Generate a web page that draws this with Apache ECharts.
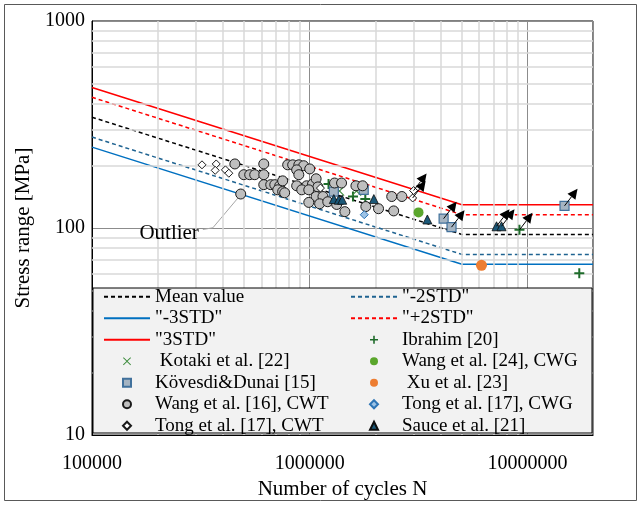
<!DOCTYPE html>
<html>
<head>
<meta charset="utf-8">
<title>S-N curve</title>
<script src="https://cdn.jsdelivr.net/npm/echarts@6/dist/echarts.min.js"></script>
<style>
  html, body { margin: 0; padding: 0; background: #ffffff; }
  #chart { width: 641px; height: 505px; }
</style>
</head>
<body>
<div id="chart"></div>
<script>
// Design curves: knots at N = 1e5, 5e6 (cut-off) and 2e7
const curveN = [1e5, 5e6, 2e7];
const meanValue = [343, 93.1, 93.1];
const minus2Std = [275, 74.6, 74.6];
const minus3Std = [246, 66.8, 66.8];
const plus2Std = [428, 116, 116];
const plus3Std = [477, 129.5, 129.5];

// Test results [N, stress range MPa]
const ibrahim20 = [[1.22e6, 163], [1.58e6, 142], [1.80e6, 138], [9.19e6, 98], [1.73e7, 60.5]];
const kotaki22 = [[1.37e6, 151], [1.64e6, 151]];
const wang24CWG = [[3.16e6, 119]];
const kovesdi15 = [[1.29e6, 150], [1.77e6, 153], [4.12e6, 111], [4.48e6, 101], [1.48e7, 128]];
const xu23 = [[6.15e6, 66.1]];
const wang16CWT = [
  [4.53e5, 204], [6.15e5, 204], [7.92e5, 202], [8.35e5, 202], [8.91e5, 202], [9.38e5, 200], [1.0e6, 193],
  [4.98e5, 181], [5.30e5, 181], [5.59e5, 181], [6.15e5, 181], [8.71e5, 191], [8.91e5, 181],
  [6.15e5, 162], [6.62e5, 162], [6.91e5, 162], [7.28e5, 160], [7.51e5, 169], [8.71e5, 160], [9.68e5, 160],
  [1.03e6, 163], [1.07e6, 173], [1.09e6, 158], [1.30e6, 165], [1.40e6, 165], [1.63e6, 160], [1.75e6, 160],
  [7.13e5, 153], [7.51e5, 150], [9.19e5, 153], [9.9e5, 153], [1.07e6, 142], [1.15e6, 142], [7.67e5, 148],
  [9.9e5, 133], [1.11e6, 131], [1.21e6, 134], [1.33e6, 130], [1.45e6, 120],
  [1.81e6, 127], [2.07e6, 124], [2.43e6, 121], [2.38e6, 142], [2.65e6, 142],
  [4.82e5, 146]
];
const tong17CWG = [[1.78e6, 116]];
const tong17CWT = [[3.20e5, 202], [3.72e5, 204], [3.68e5, 190], [4.10e5, 191], [4.25e5, 184], [1.12e6, 156], [3.0e6, 151.7], [2.97e6, 139.7]];
const sauce21 = [[1.29e6, 138], [1.36e6, 137], [1.41e6, 137], [1.97e6, 138], [3.47e6, 110], [7.21e6, 102], [7.60e6, 102]];

// Run-out specimens (no failure), marked with an arrow
const runOuts = [[3.0e6, 151.7], [2.97e6, 139.7], [4.12e6, 111], [4.48e6, 101], [1.48e7, 128], [7.21e6, 102], [7.60e6, 102], [9.19e6, 98]];

// Outlier annotation: leader line from the label to the specimen
const outlierLeader = [[3.23e5, 98.4], [3.59e5, 100.3], [4.77e5, 143]];
const outlierLabel = 'Outlier';

// Grid lines
const minorX = [2e5, 3e5, 4e5, 5e5, 6e5, 7e5, 8e5, 9e5, 2e6, 3e6, 4e6, 5e6, 6e6, 7e6, 8e6, 9e6];
const minorY = [20, 30, 40, 50, 60, 70, 80, 90, 200, 300, 400, 500, 600, 700, 800, 900];

const SERIF = "'Liberation Serif', 'Times New Roman', serif";
const toPairs = (xs, ys) => xs.map((x, i) => [x, ys[i]]);

// Marker shapes as paths so they keep their proportions in the legend
const PLUS = 'path://M4 0 L6 0 L6 4 L10 4 L10 6 L6 6 L6 10 L4 10 L4 6 L0 6 L0 4 L4 4 Z';
const CROSS = 'path://M0 0.8 L0.8 0 L5 4.2 L9.2 0 L10 0.8 L5.8 5 L10 9.2 L9.2 10 L5 5.8 L0.8 10 L0 9.2 L4.2 5 Z';
const SQUARE = 'path://M0 0 L10 0 L10 10 L0 10 Z';
const DIAMOND = 'path://M5 0 L10 5 L5 10 L0 5 Z';
const TRIANGLE = 'path://M5 0 L10 10 L0 10 Z';

function curve(name, values, color, dashed) {
  return {
    name, type: 'line', data: toPairs(curveN, values), symbol: 'none', silent: true, z: 3,
    lineStyle: { color, width: 1.5, type: dashed ? [4, 3] : 'solid' },
    itemStyle: { color }
  };
}
function points(name, data, symbol, size, fill, border, borderWidth) {
  return {
    name, type: 'scatter', data, symbol, symbolSize: size, z: 5,
    itemStyle: { color: fill, borderColor: border, borderWidth: borderWidth, opacity: 1 }
  };
}

const chart = echarts.init(document.getElementById('chart'), null, { renderer: 'canvas' });

const legendCommon = {
  orient: 'vertical', padding: 0, itemGap: 0, itemWidth: 46, itemHeight: 8, z: 60,
  selectedMode: false,
  textStyle: { fontFamily: SERIF, fontSize: 19, lineHeight: 21.5, color: '#000' }
};
// Curve entries show only their line in the legend
const lineEntry = name => ({ name, itemStyle: { color: 'rgba(0,0,0,0)', borderWidth: 0, opacity: 0 } });

const option = {
  animation: false,
  backgroundColor: '#ffffff',
  grid: { left: 92, top: 21, right: 48, bottom: 67, show: true, borderColor: '#000', borderWidth: 1, backgroundColor: 'transparent' },
  xAxis: {
    type: 'log', logBase: 10, min: 1e5, max: 2e7,
    name: 'Number of cycles N', nameLocation: 'middle', nameGap: 42,
    nameTextStyle: { fontFamily: SERIF, fontSize: 21, color: '#000' },
    axisLine: { show: true, lineStyle: { color: '#000', width: 1 } },
    axisTick: { show: false },
    axisLabel: {
      margin: 19, fontFamily: SERIF, fontSize: 20, color: '#000',
      formatter: v => { const l = Math.log10(v); return Math.abs(l - Math.round(l)) < 1e-6 ? String(Math.round(v)) : ''; }
    },
    splitLine: { show: true, lineStyle: { color: '#8c8c8c', width: 1 } }
  },
  yAxis: {
    type: 'log', logBase: 10, min: 10, max: 1000,
    name: 'Stress range [MPa]', nameLocation: 'middle', nameGap: 56, nameRotate: 90,
    nameTextStyle: { fontFamily: SERIF, fontSize: 21, color: '#000' },
    axisLine: { show: true, lineStyle: { color: '#000', width: 1 } },
    axisTick: { show: false },
    axisLabel: {
      margin: 7, fontFamily: SERIF, fontSize: 20, color: '#000',
      formatter: v => String(Math.round(v))
    },
    splitLine: { show: true, lineStyle: { color: '#8c8c8c', width: 1 } }
  },
  legend: [
    Object.assign({}, legendCommon, {
      left: 103, top: 286,
      data: [lineEntry('Mean value'), lineEntry('"-3STD"'), lineEntry('"3STD"'),
        ' Kotaki et al. [22]', 'Kövesdi&Dunai [15]', 'Wang et al. [16], CWT', 'Tong et al. [17], CWT']
    }),
    Object.assign({}, legendCommon, {
      left: 350, top: 286,
      data: [lineEntry('"-2STD"'), lineEntry('"+2STD"'),
        'Ibrahim [20]', 'Wang et al. [24], CWG', ' Xu et al. [23]', 'Tong et al. [17], CWG', 'Sauce et al. [21]']
    })
  ],
  graphic: [
    { type: 'rect', z: 50, silent: true, shape: { x: 93, y: 288, width: 499, height: 145 },
      style: { fill: '#f2f2f2', stroke: '#000', lineWidth: 1 } },
    { type: 'rect', z: 50, silent: true, shape: { x: 4.5, y: 4.5, width: 632, height: 496 },
      style: { fill: 'none', stroke: '#595959', lineWidth: 1 } }
  ],
  series: [
    {
      name: 'minorGrid', type: 'line', data: [], z: 0, silent: true,
      markLine: {
        silent: true, symbol: 'none', label: { show: false }, animation: false,
        lineStyle: { color: '#d9d9d9', width: 1.5, type: 'solid' },
        data: minorX.map(v => ({ xAxis: v })).concat(minorY.map(v => ({ yAxis: v })))
      }
    },
    curve('Mean value', meanValue, '#000000', true),
    curve('"-2STD"', minus2Std, '#1f6391', true),
    curve('"-3STD"', minus3Std, '#0070c0', false),
    curve('"+2STD"', plus2Std, '#ff0000', true),
    curve('"3STD"', plus3Std, '#ff0000', false),
    {
      name: 'outlierLeader', type: 'line', data: outlierLeader, symbol: 'none', silent: true, z: 4,
      lineStyle: { color: '#a6a6a6', width: 1 },
      markPoint: {
        silent: true, symbol: 'circle', symbolSize: 0, animation: false,
        itemStyle: { color: '#000', opacity: 1 },
        label: { show: true, formatter: outlierLabel, position: 'left', distance: 4, offset: [0, 4],
          fontFamily: SERIF, fontSize: 21, color: '#000', opacity: 1 },
        data: [{ coord: outlierLeader[0] }]
      }
    },
    points('Ibrahim [20]', ibrahim20, PLUS, 10, '#1e6b2a', '#1e6b2a', 0),
    points(' Kotaki et al. [22]', kotaki22, CROSS, 10, '#3d8c3d', '#3d8c3d', 0),
    points('Wang et al. [24], CWG', wang24CWG, 'circle', 10, '#5aa62c', '#5aa62c', 0),
    points('Kövesdi&Dunai [15]', kovesdi15, SQUARE, 9, '#a5b4c2', '#41719c', 1.2),
    points(' Xu et al. [23]', xu23, 'circle', 11, '#ed7d31', '#ed7d31', 0),
    points('Wang et al. [16], CWT', wang16CWT, 'circle', 10, '#bfbfbf', '#1a1a1a', 1),
    points('Tong et al. [17], CWG', tong17CWG, DIAMOND, 8, '#9dc3e6', '#2e75b6', 1),
    points('Tong et al. [17], CWT', tong17CWT, DIAMOND, 8, '#ffffff', '#1a1a1a', 1),
    points('Sauce et al. [21]', sauce21, TRIANGLE, 9, '#1b5878', '#0d0d0d', 0.8),
    {
      name: 'runOutArrows', type: 'custom', data: runOuts, z: 8, silent: true,
      renderItem: (params, api) => {
        const p = api.coord([api.value(0), api.value(1)]);
        const dx = 13, dy = -17;
        const len = Math.hypot(dx, dy);
        const ux = dx / len, uy = dy / len;
        const tip = [p[0] + dx, p[1] + dy];
        const headLen = 10, headHalf = 5;
        const base = [tip[0] - ux * headLen, tip[1] - uy * headLen];
        const nx = -uy, ny = ux;
        return {
          type: 'group',
          children: [
            { type: 'line', shape: { x1: p[0], y1: p[1], x2: base[0], y2: base[1] }, style: { stroke: '#000', lineWidth: 1 } },
            { type: 'polygon', shape: { points: [tip, [base[0] + nx * headHalf, base[1] + ny * headHalf], [base[0] - nx * headHalf, base[1] - ny * headHalf]] },
              style: { fill: '#000' } }
          ]
        };
      }
    }
  ]
};

chart.setOption(option);
</script>
</body>
</html>
